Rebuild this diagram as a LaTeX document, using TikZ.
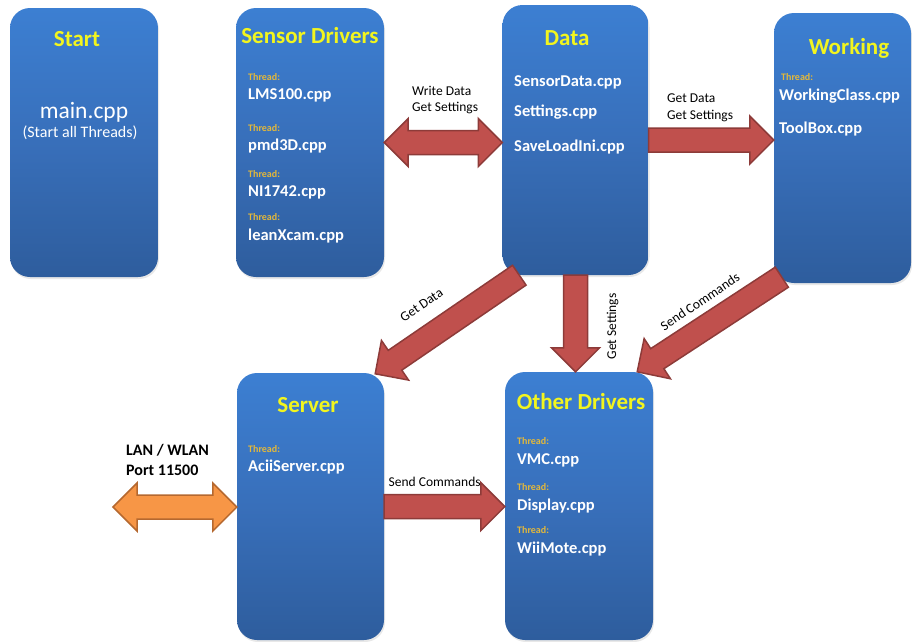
\documentclass[tikz,border=0pt]{standalone}
\usepackage{fontspec}
\setmainfont{Carlito}
\usetikzlibrary{calc,shadows}

\definecolor{boxtop}{HTML}{3C7FD2}
\definecolor{boxmid}{HTML}{386FBA}
\definecolor{boxbot}{HTML}{2E5D9D}
\definecolor{titleyel}{HTML}{F2F51E}
\definecolor{threadyel}{HTML}{E3B83A}
\definecolor{arrfill}{HTML}{C0504D}
\definecolor{arrline}{HTML}{8D3B39}
\definecolor{lanfill}{HTML}{F79646}
\definecolor{lanline}{HTML}{B5682F}

% half widths and head length of the block arrows
\newcommand\blkshaftw{12pt}
\newcommand\blkheadw{24pt}
\newcommand\blkheadlen{24pt}

% block arrow from #2 to #3
\newcommand\blkarrow[3][]{%
  \coordinate (hb) at ($(#3)!\blkheadlen!(#2)$);
  \draw[arrowbox,#1] ($(#2)!\blkshaftw!90:(#3)$) -- ($(hb)!\blkshaftw!90:(#3)$)
    -- ($(hb)!\blkheadw!90:(#3)$) -- (#3) -- ($(hb)!\blkheadw!-90:(#3)$)
    -- ($(hb)!\blkshaftw!-90:(#3)$) -- ($(#2)!\blkshaftw!-90:(#3)$) -- cycle;}

% block arrow with heads on both ends
\newcommand\blkdarrow[3][]{%
  \coordinate (hb) at ($(#3)!\blkheadlen!(#2)$);
  \coordinate (tb) at ($(#2)!\blkheadlen!(#3)$);
  \draw[arrowbox,#1] (#2) -- ($(tb)!\blkheadw!90:(#3)$) -- ($(tb)!\blkshaftw!90:(#3)$)
    -- ($(hb)!\blkshaftw!90:(#3)$) -- ($(hb)!\blkheadw!90:(#3)$) -- (#3)
    -- ($(hb)!\blkheadw!-90:(#3)$) -- ($(hb)!\blkshaftw!-90:(#3)$)
    -- ($(tb)!\blkshaftw!-90:(#3)$) -- ($(tb)!\blkheadw!-90:(#3)$) -- cycle;}

\tikzset{
  block/.style={rounded corners=20, top color=boxtop, bottom color=boxbot, middle color=boxmid,
    drop shadow={opacity=0.18, shadow xshift=1pt, shadow yshift=-2pt}},
  title/.style={anchor=base, inner sep=0, text=titleyel, font=\fontsize{23}{26}\selectfont\bfseries},
  thread/.style={anchor=base west, inner sep=0, text=threadyel, font=\fontsize{10}{12}\selectfont\bfseries},
  file/.style={anchor=base west, inner sep=0, text=white, font=\fontsize{16.5}{19}\selectfont\bfseries},
  lbl/.style={inner sep=0, font=\fontsize{13.5}{16}\selectfont},
  arrowbox/.style={fill=arrfill, draw=arrline, line width=1.5pt, line join=miter}
}

\begin{document}
\begin{tikzpicture}[x=1pt,y=-1pt]
\useasboundingbox (0,0) rectangle (912,641);

% boxes
\node[block, minimum width=148, minimum height=269] (start) at (84,142.5) {};
\node[block, minimum width=148, minimum height=269] (sens) at (310,142.5) {};
\node[block, minimum width=146, minimum height=270] (data) at (575.5,140) {};
\node[block, minimum width=137, minimum height=270] (work) at (842.5,148) {};
\node[block, minimum width=147, minimum height=267] (server) at (310.5,506.5) {};
\node[block, minimum width=148, minimum height=268] (other) at (579,506) {};

% Start
\node[title] (tstart) at (77,46) {Start};
\node[anchor=base, inner sep=0, text=white, font=\fontsize{23.5}{26}\selectfont] (mainf) at (84,118) {main.cpp};
\node[anchor=base, inner sep=0, text=white, font=\fontsize{16}{19}\selectfont] (mainn) at (80,137) {(Start all Threads)};

% Sensor Drivers
\node[title] (tsens) at (310,43) {Sensor Drivers};
\node[thread] (s1t) at (248,80) {Thread:};
\node[file] (s1) at (248,99) {LMS100.cpp};
\node[thread] (s2t) at (248,131.5) {Thread:};
\node[file] (s2) at (248,150.5) {pmd3D.cpp};
\node[thread] (s3t) at (248,177.5) {Thread:};
\node[file] (s3) at (248,196.5) {NI1742.cpp};
\node[thread] (s4t) at (248,220.5) {Thread:};
\node[file] (s4) at (248,240) {leanXcam.cpp};

% Data
\node[title] (tdata) at (567,45) {Data};
\node[file] (d1) at (514,86.5) {SensorData.cpp};
\node[file] (d2) at (514,116.5) {Settings.cpp};
\node[file] (d3) at (514,151) {SaveLoadIni.cpp};

% Working
\node[title] (twork) at (849,54) {Working};
\node[thread] (w1t) at (781,80.5) {Thread:};
\node[file] (w1) at (779,100) {WorkingClass.cpp};
\node[file] (w2) at (779,133) {ToolBox.cpp};

% Server
\node[title] (tserver) at (308,412.5) {Server};
\node[thread] (v1t) at (248,452.5) {Thread:};
\node[file] (v1) at (248,471.5) {AciiServer.cpp};

% Other Drivers
\node[title] (tother) at (581,409) {Other Drivers};
\node[thread] (o1t) at (517,444.5) {Thread:};
\node[file] (o1) at (517,464) {VMC.cpp};
\node[thread] (o2t) at (517,490.5) {Thread:};
\node[file] (o2) at (517,510) {Display.cpp};
\node[thread] (o3t) at (517,533.5) {Thread:};
\node[file] (o3) at (517,553.5) {WiiMote.cpp};

% network side
\node[anchor=base west, inner sep=0, font=\fontsize{16}{19}\selectfont\bfseries] (lan) at (126,455) {LAN / WLAN};
\node[anchor=base west, inner sep=0, font=\fontsize{16}{19}\selectfont\bfseries] (port) at (126,475) {Port 11500};
\coordinate (net) at (113,507);

% free ends of the diagonal arrows
\coordinate (gd1) at ([xshift=17]data.south west);
\coordinate (gd2) at ([shift={(-9,1)}]server.north east);
\coordinate (sc1) at ([shift={(8,-6)}]work.south west);
\coordinate (sc2) at ([shift={(-16,0)}]other.north east);

% arrows
\blkdarrow{sens.east}{sens.east -| data.west}
\blkarrow{data.east}{data.east -| work.west}
\blkarrow{data.south}{data.south |- other.north}
\blkarrow{gd1}{gd2}
\blkarrow{sc1}{sc2}
\blkarrow{server.east}{server.east -| other.west}
\blkdarrow[fill=lanfill, draw=lanline]{net}{net -| server.west}

% arrow labels
\node[lbl, anchor=base west] (l1) at (412,95) {Write Data};
\node[lbl, anchor=base west] (l2) at (412,111) {Get Settings};
\node[lbl, anchor=base west] (l3) at (667,102.5) {Get Data};
\node[lbl, anchor=base west] (l4) at (667,119) {Get Settings};
\node[lbl, rotate=34] (l5) at (421.5,305) {Get Data};
\node[lbl, rotate=90] (l6) at (612.5,326.5) {Get Settings};
\node[lbl, rotate=34] (l7) at (700,301.5) {Send Commands};
\node[lbl, anchor=base west] (l8) at (388.5,486) {Send Commands};
\end{tikzpicture}
\end{document}
